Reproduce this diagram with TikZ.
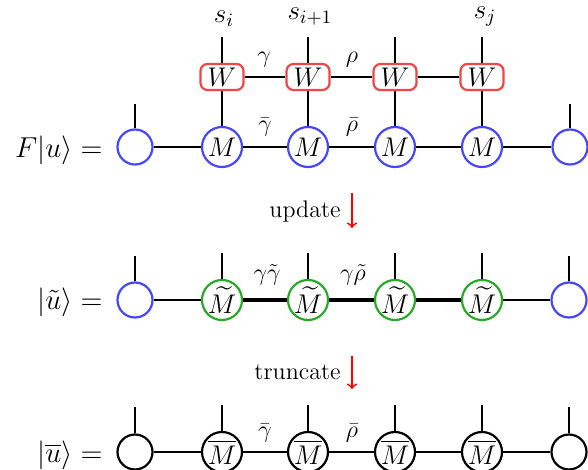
\RequirePackage{fix-cm}
\documentclass[tikz,border=0pt]{standalone}
\usepackage{amsmath}
\definecolor{mblue}{RGB}{70,70,250}
\definecolor{wred}{RGB}{240,70,70}
\definecolor{mgreen}{RGB}{40,170,40}
\tikzset{
  wire/.style={line width=0.9pt},
  thickwire/.style={line width=2.3pt},
  leg/.style={line width=0.9pt},
  endc/.style={circle, draw, line width=1.1pt, minimum size=17.5pt, inner sep=0pt},
  mc/.style={circle, draw, line width=1.1pt, minimum size=20pt, inner sep=0pt, font=\fontsize{13.5}{16}\selectfont},
  wbox/.style={rectangle, rounded corners=3.5pt, draw=wred, line width=1.1pt, minimum width=21.5pt, minimum height=13pt, inner sep=0pt, fill=white, font=\fontsize{13.5}{16}\selectfont},
  lab/.style={inner sep=0pt, font=\large},
  slab/.style={inner sep=0pt, font=\fontsize{13.5}{16}\selectfont},
  eqlab/.style={inner sep=0pt, anchor=east, font=\Large},
  steparrow/.style={->, draw=red, line width=0.9pt},
}
\begin{document}
\begin{tikzpicture}[x=0.5pt,y=-0.5pt]
\useasboundingbox (0,0) rectangle (588,470);
% ---------- Row 1 : F|u> ----------
\node[eqlab] (eq1) at (103,150) {$F|u\rangle=$};
\node[endc, draw=mblue] (a0) at (135,147) {};
\node[mc, draw=mblue] (a1) at (222,147) {$M$};
\node[mc, draw=mblue] (a2) at (308,147) {$M$};
\node[mc, draw=mblue] (a3) at (395,147) {$M$};
\node[mc, draw=mblue] (a4) at (482,147) {$M$};
\node[endc, draw=mblue] (a5) at (570,147) {};
\node[wbox] (w1) at (222,77) {$W$};
\node[wbox] (w2) at (308,77) {$W$};
\node[wbox] (w3) at (395,77) {$W$};
\node[wbox] (w4) at (482,77) {$W$};
\coordinate (ta0) at (135,104);
\coordinate (ta5) at (570,104);
\coordinate (tw1) at (222,37);
\coordinate (tw2) at (308,37);
\coordinate (tw3) at (395,37);
\coordinate (tw4) at (482,37);
\node[slab] (s1) at (224,19) {$s_i$};
\node[slab] (s2) at (310,17) {$s_{i+1}$};
\node[slab] (s4) at (485,17) {$s_j$};
\draw[wire] (a0) -- (a1);
\draw[wire] (a1) -- (a2);
\draw[wire] (a2) -- (a3);
\draw[wire] (a3) -- (a4);
\draw[wire] (a4) -- (a5);
\draw[wire] (w1) -- (w2);
\draw[wire] (w2) -- (w3);
\draw[wire] (w3) -- (w4);
\draw[leg] (a1) -- (w1);
\draw[leg] (a2) -- (w2);
\draw[leg] (a3) -- (w3);
\draw[leg] (a4) -- (w4);
\draw[leg] (a0) -- (ta0);
\draw[leg] (a5) -- (ta5);
\draw[leg] (w1) -- (tw1);
\draw[leg] (w2) -- (tw2);
\draw[leg] (w3) -- (tw3);
\draw[leg] (w4) -- (tw4);
\node[lab] (g1) at (264,60) {$\gamma$};
\node[lab] (r1) at (352,60) {$\rho$};
\node[lab] (gb1) at (265,127) {$\bar\gamma$};
\node[lab] (rb1) at (352,127) {$\bar\rho$};
% ---------- update ----------
\node[lab, anchor=base east] (upd) at (341,218) {update};
\coordinate (u1) at (352,193);
\coordinate (u2) at (352,228);
\draw[steparrow] (u1) -- (u2);
% ---------- Row 2 : |u~> ----------
\node[eqlab] (eq2) at (103,302) {$|\tilde u\rangle=$};
\node[endc, draw=mblue] (b0) at (135,300) {};
\node[mc, draw=mgreen] (b1) at (222,300) {$\widetilde{M}$};
\node[mc, draw=mgreen] (b2) at (308,300) {$\widetilde{M}$};
\node[mc, draw=mgreen] (b3) at (395,300) {$\widetilde{M}$};
\node[mc, draw=mgreen] (b4) at (482,300) {$\widetilde{M}$};
\node[endc, draw=mblue] (b5) at (569,300) {};
\coordinate (tb0) at (135,256);
\coordinate (tb1) at (222,253);
\coordinate (tb2) at (308,253);
\coordinate (tb3) at (395,253);
\coordinate (tb4) at (482,253);
\coordinate (tb5) at (569,256);
\draw[wire] (b0) -- (b1);
\draw[thickwire] (b1) -- (b2);
\draw[thickwire] (b2) -- (b3);
\draw[thickwire] (b3) -- (b4);
\draw[wire] (b4) -- (b5);
\foreach \i in {0,...,5} { \draw[leg] (b\i) -- (tb\i); }
\node[lab] (g2) at (267,275) {$\gamma\tilde\gamma$};
\node[lab] (r2) at (353,275) {$\gamma\tilde\rho$};
% ---------- truncate ----------
\node[lab, anchor=base east] (trc) at (341,379) {truncate};
\coordinate (t1) at (352,356);
\coordinate (t2) at (352,389);
\draw[steparrow] (t1) -- (t2);
% ---------- Row 3 : |u-bar> ----------
\node[eqlab] (eq3) at (103,455) {$|\overline{u}\rangle=$};
\node[endc, draw=black] (c0) at (135,452) {};
\node[mc, draw=black] (c1) at (222,452) {$\overline{M}$};
\node[mc, draw=black] (c2) at (308,452) {$\overline{M}$};
\node[mc, draw=black] (c3) at (395,452) {$\overline{M}$};
\node[mc, draw=black] (c4) at (482,452) {$\overline{M}$};
\node[endc, draw=black] (c5) at (569,452) {};
\coordinate (tc0) at (135,407);
\coordinate (tc1) at (222,405);
\coordinate (tc2) at (308,405);
\coordinate (tc3) at (395,405);
\coordinate (tc4) at (482,405);
\coordinate (tc5) at (569,407);
\draw[wire] (c0) -- (c1);
\draw[wire] (c1) -- (c2);
\draw[wire] (c2) -- (c3);
\draw[wire] (c3) -- (c4);
\draw[wire] (c4) -- (c5);
\foreach \i in {0,...,5} { \draw[leg] (c\i) -- (tc\i); }
\node[lab] (g3) at (265,433) {$\bar\gamma$};
\node[lab] (r3) at (352,433) {$\bar\rho$};
\end{tikzpicture}
\end{document}
